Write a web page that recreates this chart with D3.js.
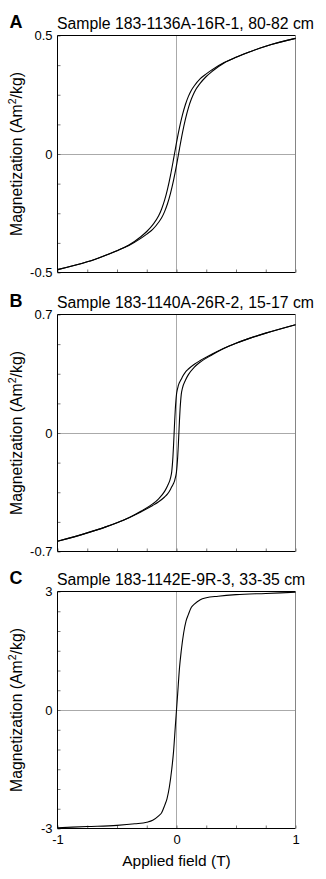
<!DOCTYPE html>
<html><head><meta charset="utf-8">
<script src="https://cdn.jsdelivr.net/npm/d3@7"></script>
<style>
body{margin:0;background:#fff}
svg{display:block}
text{font-family:"Liberation Sans",Arial,Helvetica,sans-serif;fill:#000}
</style>
</head><body>
<svg id="chart" width="326" height="879"></svg>
<script>
// ---------- data ----------
const panelLetters = ["A", "B", "C"];
const panelTitles = [
  "Sample 183-1136A-16R-1, 80-82 cm",
  "Sample 183-1140A-26R-2, 15-17 cm",
  "Sample 183-1142E-9R-3, 33-35 cm"
];
const yLimits = [0.5, 0.7, 3];
const yTickSteps = [0.125, 0.175, 0.5];
const yTickLabelsA = ["-0.5", "0", "0.5"];
const yTickLabelsB = ["-0.7", "0", "0.7"];
const yTickLabelsC = ["-3", "0", "3"];
const xTickLabels = ["-1", "0", "1"];
const xLabel = "Applied field (T)";

// Panel A: hysteresis loop (field in T, magnetization in Am2/kg)
const fieldA = [-1, -0.75, -0.6, -0.5, -0.4, -0.3, -0.25, -0.2, -0.15, -0.125, -0.1, -0.075, -0.05, -0.025, 0,
  0.025, 0.05, 0.075, 0.1, 0.125, 0.15, 0.2, 0.25, 0.3, 0.4, 0.5, 0.6, 0.75, 1];
const upperA = [-0.488, -0.455, -0.428, -0.408, -0.384, -0.349, -0.327, -0.299, -0.261, -0.232, -0.195, -0.147, -0.089, -0.022, 0.048,
  0.111, 0.165, 0.209, 0.243, 0.269, 0.288, 0.318, 0.338, 0.356, 0.386, 0.408, 0.428, 0.455, 0.488];
const lowerA = [-0.488, -0.455, -0.428, -0.408, -0.386, -0.356, -0.338, -0.318, -0.288, -0.269, -0.243, -0.209, -0.165, -0.111, -0.048,
  0.022, 0.089, 0.147, 0.195, 0.232, 0.261, 0.299, 0.327, 0.349, 0.384, 0.408, 0.428, 0.455, 0.488];

// Panel B
const fieldB = [-1, -0.75, -0.6, -0.5, -0.4, -0.3, -0.2, -0.15, -0.1, -0.075, -0.05, -0.04, -0.035, -0.03, -0.025,
  -0.02, -0.015, -0.01, -0.005, 0, 0.005, 0.01, 0.015, 0.02, 0.025, 0.03, 0.035, 0.04, 0.05, 0.075, 0.1,
  0.15, 0.2, 0.3, 0.4, 0.5, 0.6, 0.75, 1];
const upperB = [-0.64, -0.59, -0.556, -0.53, -0.5, -0.462, -0.419, -0.389, -0.345, -0.312, -0.265, -0.228, -0.19, -0.14, -0.075,
  0, 0.075, 0.14, 0.19, 0.228, 0.25, 0.265, 0.28, 0.29, 0.298, 0.305, 0.312, 0.318, 0.332, 0.36, 0.378,
  0.406, 0.428, 0.466, 0.5, 0.53, 0.556, 0.59, 0.64];
const lowerB = [-0.64, -0.59, -0.556, -0.53, -0.5, -0.466, -0.428, -0.406, -0.378, -0.36, -0.332, -0.318, -0.312, -0.305, -0.298,
  -0.29, -0.28, -0.265, -0.25, -0.228, -0.19, -0.14, -0.075, 0, 0.075, 0.14, 0.19, 0.228, 0.265, 0.312, 0.345,
  0.389, 0.419, 0.462, 0.5, 0.53, 0.556, 0.59, 0.64];

// Panel C
const fieldC = [-1, -0.75, -0.5, -0.35, -0.25, -0.2, -0.15, -0.125, -0.1, -0.08, -0.06, -0.04, -0.025, -0.01, 0,
  0.01, 0.025, 0.04, 0.06, 0.08, 0.1, 0.125, 0.15, 0.2, 0.25, 0.35, 0.5, 0.75, 1];
const magC = [-2.98, -2.95, -2.92, -2.88, -2.84, -2.79, -2.68, -2.6, -2.42, -2.25, -1.95, -1.5, -1.06, -0.42, 0,
  0.42, 1.06, 1.5, 1.95, 2.25, 2.42, 2.6, 2.68, 2.79, 2.84, 2.88, 2.92, 2.95, 2.98];

// ---------- layout ----------
const svg = d3.select("#chart");
const left = 57.5, right = 295.5;
const panelTops = [35.5, 314.5, 591.5];
const plotH = 237;
const fontFam = '"Liberation Sans",Arial,Helvetica,sans-serif';

const panels = [
  {series: [[fieldA, upperA], [fieldA, lowerA]], labels: yTickLabelsA},
  {series: [[fieldB, upperB], [fieldB, lowerB]], labels: yTickLabelsB},
  {series: [[fieldC, magC]], labels: yTickLabelsC}
];

const x = d3.scaleLinear().domain([-1, 1]).range([left, right]);
const xMinor = d3.range(-1, 1.0001, 0.25);
const crisp = v => Math.floor(v) + 0.5;

panels.forEach((p, i) => {
  const top = panelTops[i], bottom = top + plotH;
  const lim = yLimits[i];
  const y = d3.scaleLinear().domain([-lim, lim]).range([bottom, top]);
  const g = svg.append("g");

  // zero lines (dotted)
  g.append("line").attr("x1", crisp(x(0))).attr("x2", crisp(x(0))).attr("y1", top).attr("y2", bottom)
    .attr("stroke", "#555").attr("stroke-width", 1).attr("stroke-dasharray", "1,1");
  g.append("line").attr("x1", left).attr("x2", right).attr("y1", crisp(y(0))).attr("y2", crisp(y(0)))
    .attr("stroke", "#555").attr("stroke-width", 1).attr("stroke-dasharray", "1,1");

  // minor ticks (inward)
  const yMinor = d3.range(-lim, lim + 1e-9, yTickSteps[i]);
  const ay = g.append("g").attr("transform", `translate(${left},0)`)
    .call(d3.axisLeft(y).tickValues(yMinor).tickSize(-3).tickFormat(""));
  ay.select(".domain").remove();
  ay.selectAll("line").attr("stroke", "#555").attr("stroke-width", 0.8);
  const ax = g.append("g").attr("transform", `translate(0,${bottom})`)
    .call(d3.axisBottom(x).tickValues(xMinor).tickSize(-3).tickFormat(""));
  ax.select(".domain").remove();
  ax.selectAll("line").attr("stroke", "#555").attr("stroke-width", 0.8);

  // y labels
  const ly = g.append("g").attr("transform", `translate(${left},0)`)
    .call(d3.axisLeft(y).tickValues([-lim, 0, lim]).tickSize(0).tickPadding(5)
      .tickFormat((d, k) => p.labels[k]));
  ly.select(".domain").remove();
  ly.selectAll("text").attr("font-size", 13).attr("font-family", fontFam).attr("fill", "#000");

  // frame: left, bottom, top black; right grey
  g.append("line").attr("x1", left).attr("x2", left).attr("y1", top).attr("y2", bottom).attr("stroke", "#000").attr("stroke-width", 1);
  g.append("line").attr("x1", left).attr("x2", right).attr("y1", bottom).attr("y2", bottom).attr("stroke", "#000").attr("stroke-width", 1);
  g.append("line").attr("x1", left).attr("x2", right).attr("y1", top).attr("y2", top).attr("stroke", "#000").attr("stroke-width", 1);
  g.append("line").attr("x1", right).attr("x2", right).attr("y1", top).attr("y2", bottom).attr("stroke", "#666").attr("stroke-width", 0.8);

  // curves
  const line = d3.line().x(d => x(d[0])).y(d => y(d[1])).curve(d3.curveMonotoneX);
  p.series.forEach(([xs, ys]) => {
    g.append("path").datum(xs.map((v, k) => [v, ys[k]]))
      .attr("d", line).attr("fill", "none").attr("stroke", "#000").attr("stroke-width", 1.1);
  });

  // panel letter and title
  g.append("text").attr("x", 9.5).attr("y", top - 8).attr("font-size", 18).attr("font-weight", "bold")
    .text(panelLetters[i]);
  g.append("text").attr("x", 57).attr("y", top - 7).attr("font-size", 15.8).text(panelTitles[i]);

  // y axis title
  const yt = g.append("text").attr("transform", `translate(21.5,${(top + bottom) / 2}) rotate(-90)`)
    .attr("text-anchor", "middle").attr("font-size", 15.8);
  yt.append("tspan").text("Magnetization (Am");
  yt.append("tspan").attr("font-size", 10.5).attr("dy", -6).text("2");
  yt.append("tspan").attr("dy", 6).text("/kg)");

  if (i === 2) {
    const lx = g.append("g").attr("transform", `translate(0,${bottom})`)
      .call(d3.axisBottom(x).tickValues([-1, 0, 1]).tickSize(0).tickPadding(6)
        .tickFormat((d, k) => xTickLabels[k]));
    lx.select(".domain").remove();
    lx.selectAll("text").attr("font-size", 13).attr("font-family", fontFam).attr("fill", "#000");
    g.append("text").attr("x", x(0)).attr("y", 866).attr("text-anchor", "middle")
      .attr("font-size", 15.5).text(xLabel);
  }
});
</script>
</body></html>
